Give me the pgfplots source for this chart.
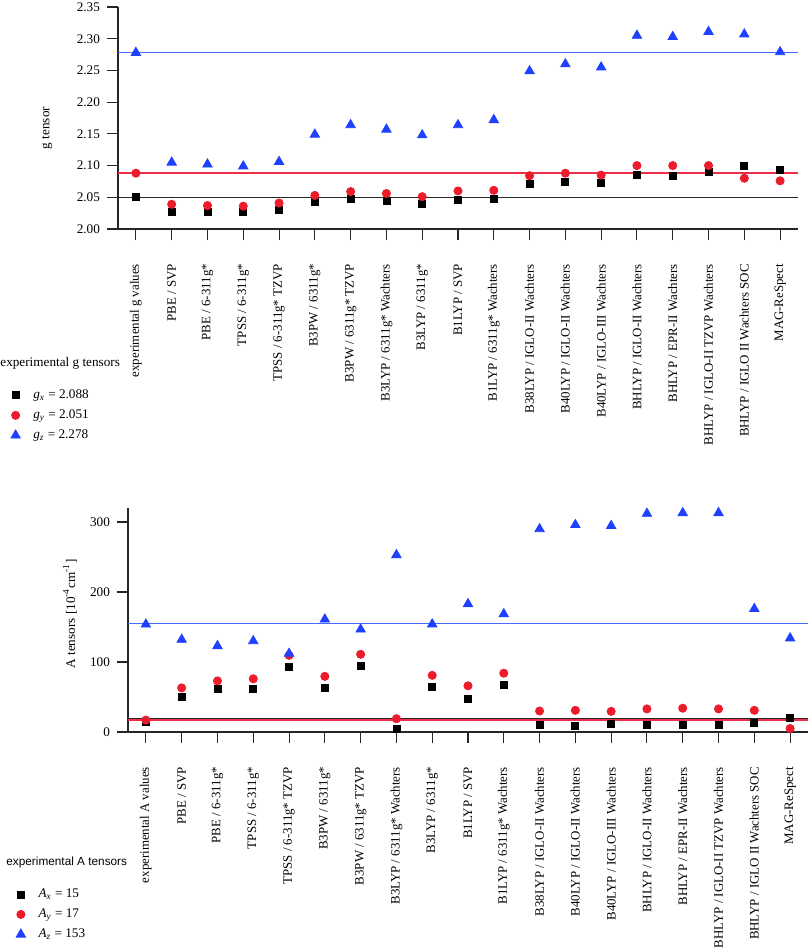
\documentclass[border=0pt]{standalone}
\usepackage{fontspec}
\setmainfont{Liberation Serif}
\setsansfont{Liberation Sans}
\usepackage{pgfplots}
\pgfplotsset{compat=1.18}

\definecolor{myred}{RGB}{237,28,45}
\definecolor{myblue}{RGB}{30,64,255}
\definecolor{lblue}{RGB}{70,105,255}
\definecolor{lred}{RGB}{240,45,75}
\definecolor{lblack}{RGB}{40,40,40}

\newcommand{\fs}{\fontsize{6.6}{7.5}\selectfont}
\newcommand{\fx}{\fontsize{6.45}{7.5}\selectfont}

\pgfplotsset{
 common/.style={
  scale only axis, width=340pt,
  xmin=-0.5, xmax=18.5,
  axis x line*=bottom, axis y line*=left,
  axis line style={-, black!85, line width=0.55pt},
  tick align=outside, major tick length=5.5pt,
  tick style={black!85, line width=0.55pt},
  xtick={0,...,18},
  xticklabel style={rotate=90, anchor=east, font=\fx},
  xticklabel shift=8.5pt,
  yticklabel style={font=\fs},
  /pgf/number format/assume math mode=true,
  ylabel style={font=\fs},
  legend style={draw=none, fill=none, font=\fs, anchor=north west,
     inner sep=0pt, row sep=3pt, column sep=6.5pt,
     nodes={inner sep=0pt, text height=5pt, text depth=2pt}},
  legend cell align=left,
  legend image code/.code={\draw[##1] plot coordinates {(0pt,0pt)};},
 },
 sq/.style={only marks, mark=square*, mark size=1.75pt, black},
 ci/.style={only marks, mark=*, mark size=2.05pt, myred},
 tr/.style={only marks, mark=triangle*, mark size=2.7pt, myblue},
 hl/.style={forget plot, line width=0.7pt},
}

\begin{document}
\begin{tikzpicture}
\useasboundingbox (0pt,0pt) rectangle (405pt,-474.5pt);

% ---------- top panel ----------
\begin{axis}[common,
  at={(59pt,-114.5pt)}, anchor=south west, height=111pt,
  ymin=2.00, ymax=2.35, ytick={2.00,2.05,...,2.35},
  yticklabel style={/pgf/number format/.cd, fixed, fixed zerofill, precision=2},
  xticklabels={experimental g values, PBE / SVP, PBE / 6-311g*, TPSS / 6-311g*,
    TPSS / 6-311g* TZVP, B3PW / 6311g*, B3PW / 6311g* TZVP, B3LYP / 6311g* Wachters,
    B3LYP / 6311g*, B1LYP / SVP, B1LYP / 6311g* Wachters, B38LYP / IGLO-II Wachters,
    B40LYP / IGLO-II Wachters, B40LYP / IGLO-III Wachters, BHLYP / IGLO-II Wachters,
    BHLYP / EPR-II Wachters, BHLYP / IGLO-II TZVP Wachters, BHLYP / IGLO II Wachters SOC,
    MAG-ReSpect},
  ylabel={g tensor},
  ylabel style={at={(axis description cs:-0.1044,0.455)}, anchor=center},
  legend style={at={(axis description cs:-0.158,-0.716)}},
]
\addplot[hl, lblack] coordinates {(-0.5,2.050) (18.5,2.050)};
\addplot[hl, lred] coordinates {(-0.5,2.088) (18.5,2.088)};
\addplot[hl, lblue] coordinates {(-0.5,2.278) (18.5,2.278)};
\addplot[sq] coordinates {(0,2.051)(1,2.027)(2,2.027)(3,2.027)(4,2.030)(5,2.042)(6,2.047)(7,2.044)(8,2.040)(9,2.046)(10,2.047)(11,2.071)(12,2.074)(13,2.072)(14,2.085)(15,2.084)(16,2.090)(17,2.100)(18,2.093)};
\addplot[ci] coordinates {(0,2.088)(1,2.039)(2,2.037)(3,2.036)(4,2.041)(5,2.053)(6,2.059)(7,2.056)(8,2.051)(9,2.060)(10,2.061)(11,2.084)(12,2.088)(13,2.085)(14,2.100)(15,2.100)(16,2.100)(17,2.080)(18,2.076)};
\addplot[tr] coordinates {(0,2.278)(1,2.105)(2,2.102)(3,2.099)(4,2.106)(5,2.149)(6,2.164)(7,2.157)(8,2.148)(9,2.164)(10,2.172)(11,2.249)(12,2.260)(13,2.255)(14,2.305)(15,2.303)(16,2.311)(17,2.307)(18,2.279)};
\addlegendentry{\textit{g}\textsubscript{\textit{x}} = 2.088}
\addlegendentry{\textit{g}\textsubscript{\textit{y}} = 2.051}
\addlegendentry{\textit{g}\textsubscript{\textit{z}} = 2.278}
\end{axis}

% ---------- bottom panel ----------
\begin{axis}[common,
  at={(64pt,-366pt)}, anchor=south west, height=112pt,
  ymin=0, ymax=320, ytick={0,100,200,300},
  xticklabels={experimental A values, PBE / SVP, PBE / 6-311g*, TPSS / 6-311g*,
    TPSS / 6-311g* TZVP, B3PW / 6311g*, B3PW / 6311g* TZVP, B3LYP / 6311g* Wachters,
    B3LYP / 6311g*, B1LYP / SVP, B1LYP / 6311g* Wachters, B38LYP / IGLO-II Wachters,
    B40LYP / IGLO-II Wachters, B40LYP / IGLO-III Wachters, BHLYP / IGLO-II Wachters,
    BHLYP / EPR-II Wachters, BHLYP / IGLO-II TZVP Wachters, BHLYP / IGLO II Wachters SOC,
    MAG-ReSpect},
  ylabel={A tensors [10\textsuperscript{-4}cm\textsuperscript{-1}]},
  ylabel style={at={(axis description cs:-0.0853,0.527)}, anchor=center},
  legend style={at={(axis description cs:-0.165,-0.692)}},
]
\addplot[hl, lblack] coordinates {(-0.5,19) (18.5,19)};
\addplot[hl, lred] coordinates {(-0.5,17) (18.5,17)};
\addplot[hl, lblue] coordinates {(-0.5,155) (18.5,155)};
\addplot[sq] coordinates {(0,15)(1,49.5)(2,61)(3,61)(4,93)(5,63)(6,94)(7,4)(8,65)(9,47)(10,67)(11,9.5)(12,9)(13,11)(14,10)(15,10.5)(16,10)(17,13)(18,20.5)};
\addplot[ci] coordinates {(0,17)(1,63)(2,73)(3,76)(4,109.5)(5,79.5)(6,111)(7,19)(8,81)(9,66)(10,84)(11,30)(12,31)(13,29.5)(14,33)(15,34)(16,33)(17,31)(18,5)};
\addplot[tr] coordinates {(0,153.8)(1,132)(2,123)(3,130)(4,112)(5,161)(6,146.6)(7,253)(8,154)(9,183)(10,168.5)(11,290)(12,296)(13,294.6)(14,312)(15,313)(16,313)(17,176)(18,134)};
\addlegendentry{\textit{A}\textsubscript{\textit{x}} = 15}
\addlegendentry{\textit{A}\textsubscript{\textit{y}} = 17}
\addlegendentry{\textit{A}\textsubscript{\textit{z}} = 153}
\end{axis}

\node[anchor=west, inner sep=0pt, font=\fs] at (0pt,-181.5pt) {experimental g tensors};
\node[anchor=west, inner sep=0pt, font={\fontsize{5.9}{7}\selectfont\sffamily}] at (3pt,-431pt) {experimental A tensors};
\end{tikzpicture}
\end{document}
